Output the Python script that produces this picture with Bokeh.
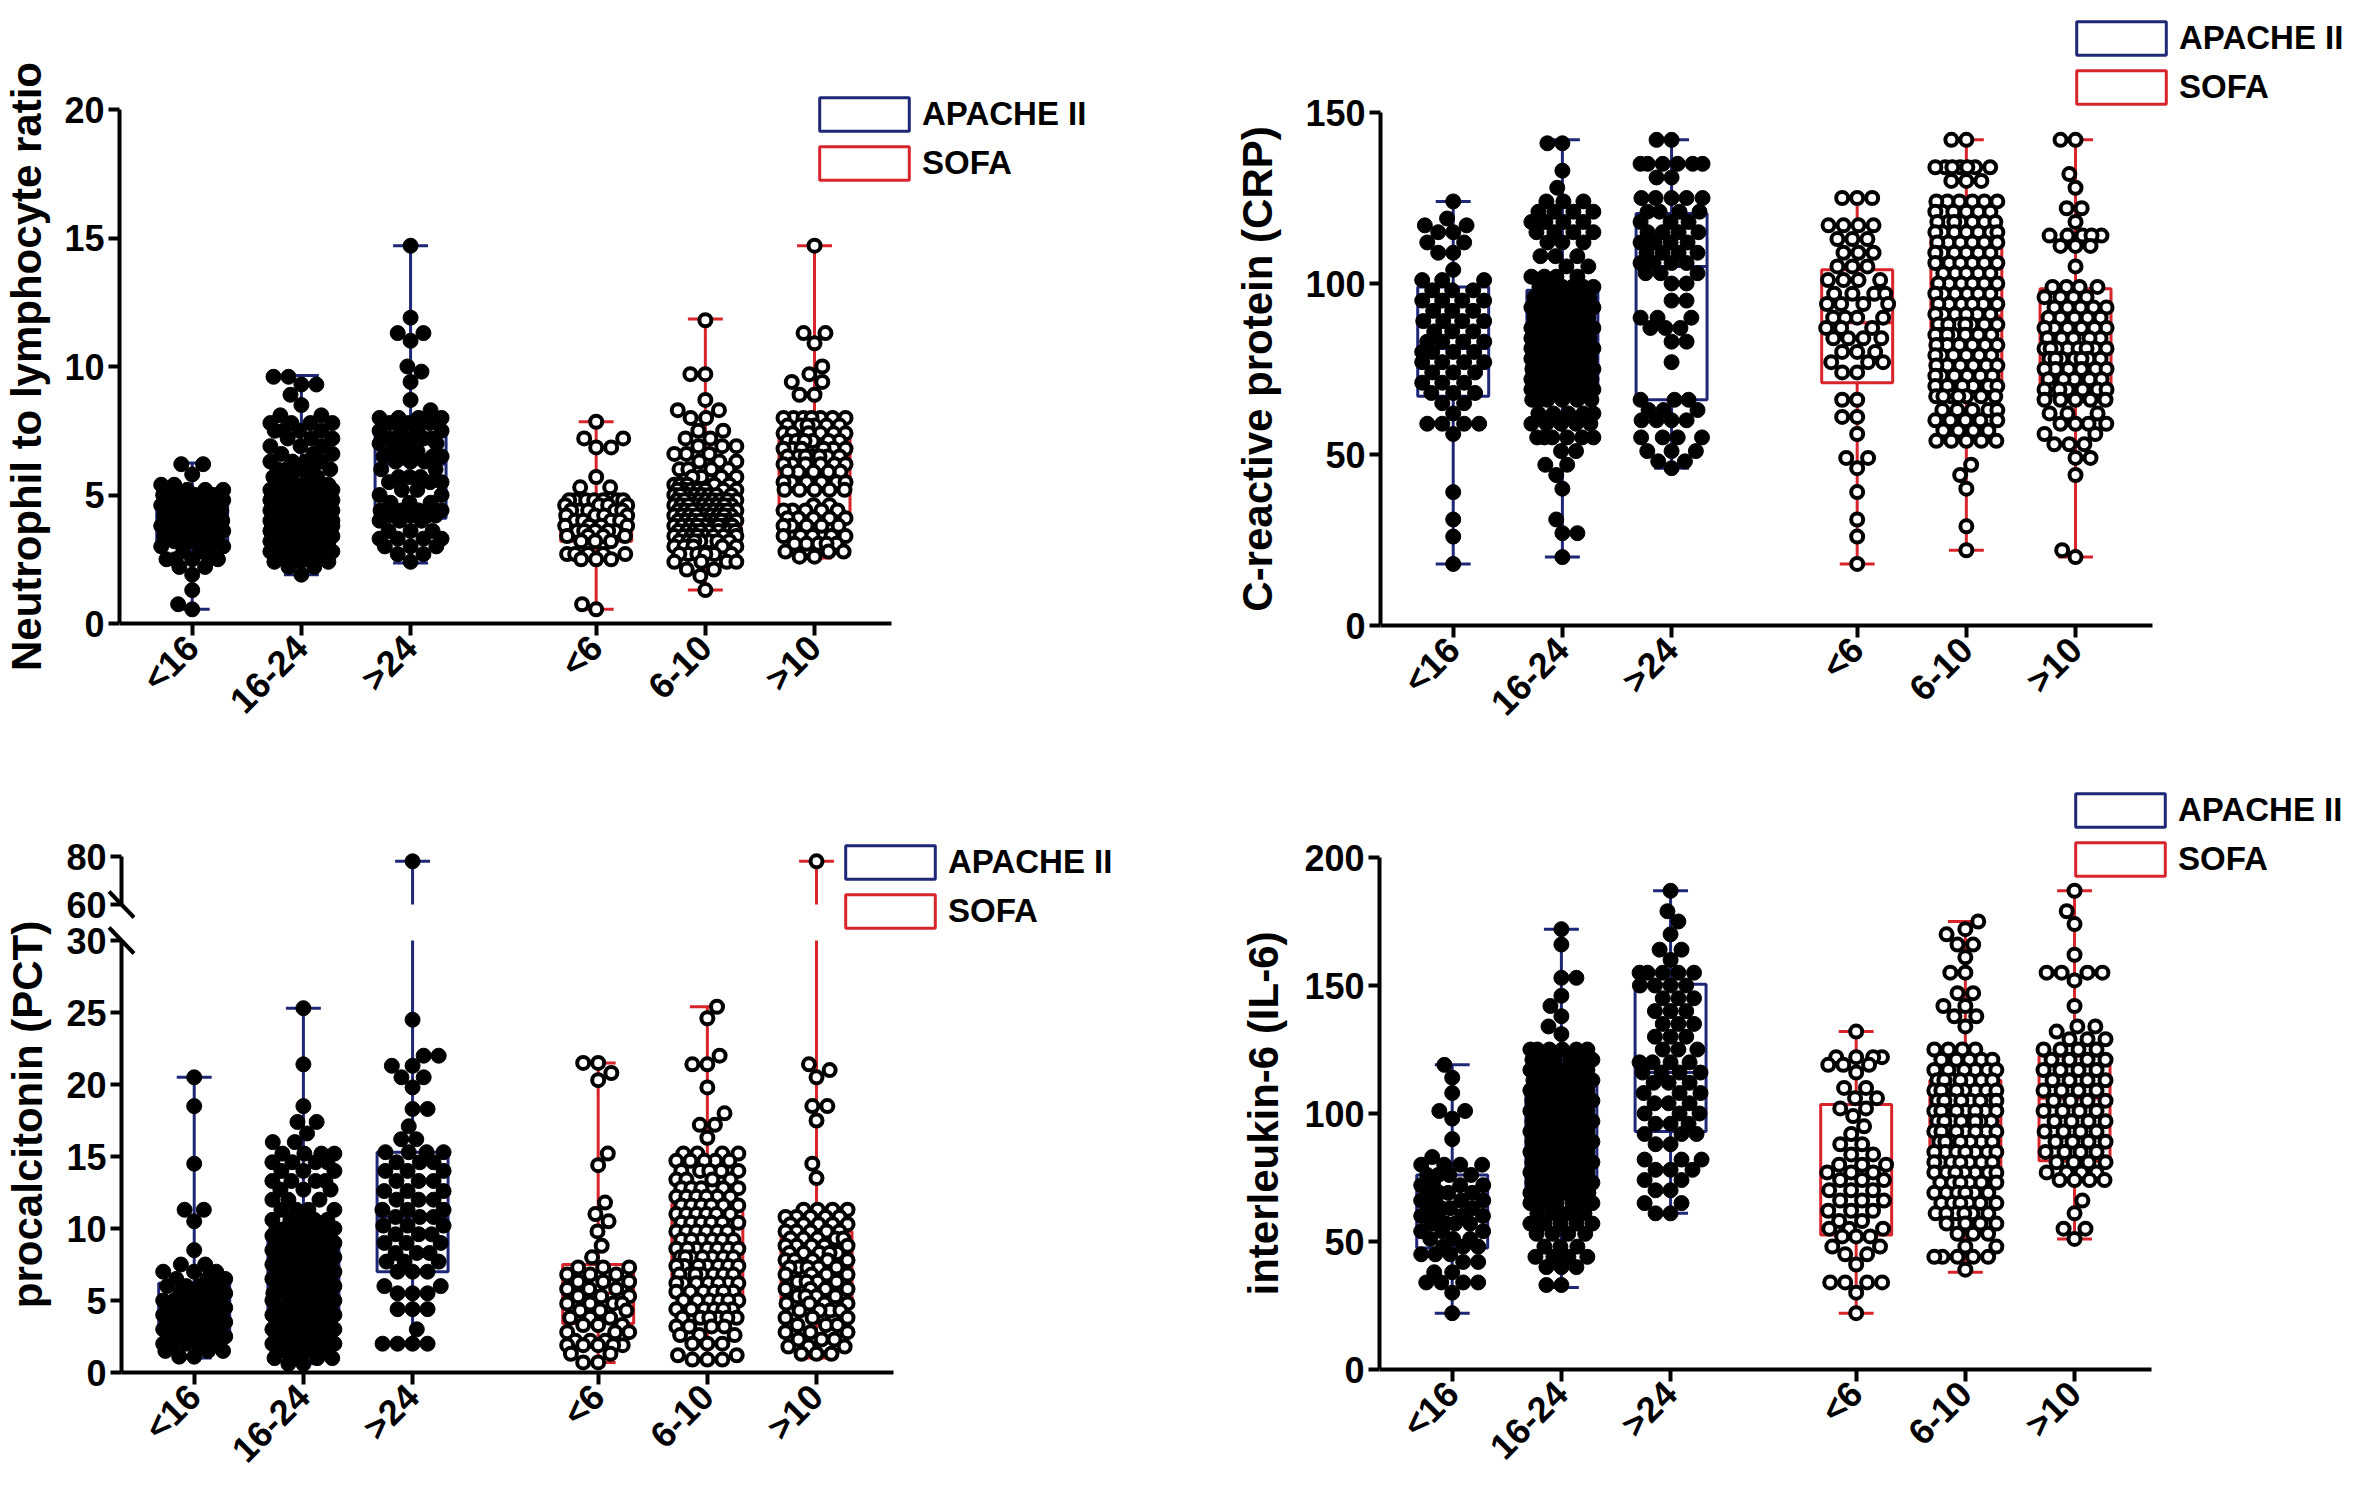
import math
from bokeh.plotting import figure
from bokeh.models import FixedTicker, Legend, LegendItem, ColumnDataSource, Range1d, LinearAxis
from bokeh.layouts import column, row
from bokeh.embed import file_html
from bokeh.resources import INLINE

# ---------------- categories ----------------
CATEGORIES = ["<16", "16-24", ">24", "<6", "6-10", ">10"]
SCORES = ["APACHE II", "SOFA"]
POSITIONS = [1, 2, 3, 4.7, 5.7, 6.7]

# ---------------- NLR (values / counts per beeswarm row) ----------------
nlr_a_lt16_v = [6.2, 5.8, 5.4, 5.2, 5.0, 4.8, 4.6, 4.4, 4.2, 4.0, 3.8, 3.6, 3.4, 3.2, 3.0, 2.8, 2.5, 2.2, 1.9, 1.3, 0.75, 0.55]
nlr_a_lt16_n = [2, 1, 2, 3, 5, 4, 5, 4, 4, 5, 4, 5, 4, 3, 3, 2, 5, 2, 1, 1, 1, 1]
nlr_a_16_24_v = [9.6, 9.3, 8.9, 8.5, 8.1, 7.8, 7.5, 7.2, 6.9, 6.6, 6.3, 6.0, 5.7, 5.4, 5.2, 5.0, 4.8, 4.6, 4.4, 4.2, 4.0, 3.8, 3.6, 3.4, 3.2, 3.0, 2.8, 2.6, 2.4, 2.2, 1.9]
nlr_a_16_24_n = [2, 2, 1, 1, 2, 4, 4, 3, 3, 3, 4, 5, 5, 6, 7, 8, 8, 8, 9, 9, 9, 8, 8, 7, 6, 5, 5, 4, 3, 2, 1]
nlr_a_gt24_v = [14.7, 11.9, 11.3, 11.0, 10.0, 9.8, 9.4, 8.7, 8.3, 8.0, 7.8, 7.5, 7.2, 7.0, 6.7, 6.5, 6.3, 6.0, 5.7, 5.5, 5.2, 5.0, 4.7, 4.4, 4.2, 4.0, 3.6, 3.3, 3.0, 2.7, 2.4]
nlr_a_gt24_n = [1, 1, 2, 1, 1, 1, 1, 1, 1, 4, 3, 4, 4, 3, 3, 4, 3, 2, 3, 3, 2, 2, 3, 4, 4, 3, 3, 4, 3, 2, 1]
nlr_s_lt6_v = [7.85, 7.2, 6.85, 5.7, 5.3, 4.8, 4.6, 4.4, 4.2, 4.0, 3.8, 3.6, 3.4, 3.2, 2.7, 2.5, 0.75, 0.55]
nlr_s_lt6_n = [1, 2, 2, 1, 2, 7, 4, 5, 4, 4, 4, 5, 4, 3, 5, 3, 1, 1]
nlr_s_6_10_v = [11.8, 9.7, 8.7, 8.3, 8.0, 7.5, 7.2, 6.9, 6.6, 6.3, 6.0, 5.7, 5.4, 5.2, 5.0, 4.8, 4.6, 4.4, 4.2, 4.0, 3.8, 3.6, 3.4, 3.2, 3.0, 2.7, 2.4, 2.1, 1.85, 1.3]
nlr_s_6_10_n = [1, 2, 1, 2, 2, 2, 2, 3, 3, 3, 4, 4, 5, 7, 8, 9, 9, 9, 9, 9, 9, 8, 8, 7, 5, 6, 4, 2, 1, 1]
nlr_s_gt10_v = [14.7, 11.3, 10.9, 10.0, 9.7, 9.4, 8.9, 8.0, 7.7, 7.4, 7.1, 6.8, 6.5, 6.2, 5.9, 5.5, 5.2, 4.6, 4.4, 4.1, 3.8, 3.4, 3.1, 2.8, 2.6]
nlr_s_gt10_n = [1, 2, 1, 1, 1, 2, 2, 7, 6, 6, 6, 6, 7, 6, 5, 6, 5, 2, 5, 5, 5, 5, 5, 3, 2]
nlr_min = [0.55, 1.9, 2.35, 0.55, 1.3, 2.55]
nlr_q1 = [3.2, 3.45, 4.1, 3.2, 3.35, 4.25]
nlr_med = [3.9, 4.3, 6.2, 3.65, 4.15, 6.5]
nlr_q3 = [4.65, 5.15, 7.4, 4.4, 5.0, 7.45]
nlr_max = [6.25, 9.65, 14.7, 7.85, 11.85, 14.7]

# ---------------- CRP ----------------
crp_a_lt16_v = [124, 119, 117, 115, 112, 109, 104, 101, 98, 95, 92, 89, 86, 83, 80, 77, 74, 71, 68, 65, 62, 59, 56, 39, 31, 26, 18]
crp_a_lt16_n = [1, 1, 2, 2, 2, 2, 1, 3, 3, 4, 3, 4, 3, 4, 4, 4, 3, 3, 3, 2, 1, 4, 1, 1, 1, 1, 1]
crp_a_16_24_v = [141, 133, 128, 124, 121, 118, 115, 112, 108, 105, 102, 99, 96, 93, 90, 87, 84, 81, 78, 75, 72, 69, 66, 62, 59, 55, 51, 47, 44, 40, 31, 27, 20]
crp_a_16_24_n = [2, 1, 1, 3, 4, 4, 4, 3, 3, 2, 4, 6, 7, 7, 7, 8, 8, 9, 9, 8, 8, 8, 6, 5, 5, 6, 2, 2, 1, 1, 1, 2, 1]
crp_a_gt24_v = [142, 135, 131, 125, 121, 118, 115, 112, 109, 106, 103, 100, 95, 90, 87, 83, 77, 66, 63, 60, 55, 51, 48, 46]
crp_a_gt24_n = [2, 6, 2, 5, 4, 3, 4, 4, 4, 4, 3, 2, 2, 3, 3, 2, 1, 3, 3, 4, 4, 3, 2, 1]
crp_s_lt6_v = [125, 117, 113, 109, 105, 101, 97, 94, 90, 87, 84, 80, 77, 74, 66, 61, 56, 49, 46, 39, 31, 26, 18]
crp_s_lt6_n = [3, 4, 3, 3, 3, 4, 4, 4, 4, 3, 4, 3, 3, 2, 2, 2, 1, 2, 1, 1, 1, 1, 1]
crp_s_6_10_v = [142, 134, 130, 124, 121, 118, 115, 112, 109, 106, 103, 100, 97, 94, 91, 88, 85, 82, 79, 76, 73, 70, 67, 63, 60, 57, 54, 47, 44, 40, 29, 22]
crp_s_6_10_n = [2, 7, 3, 6, 6, 7, 7, 6, 6, 6, 5, 6, 6, 6, 6, 7, 7, 6, 6, 6, 6, 6, 7, 5, 5, 4, 5, 1, 1, 1, 1, 1]
crp_s_gt10_v = [142, 132, 128, 122, 118, 114, 111, 105, 99, 96, 93, 90, 87, 84, 81, 78, 75, 72, 69, 66, 62, 59, 56, 53, 49, 44, 22, 20]
crp_s_gt10_n = [2, 1, 1, 2, 1, 5, 3, 1, 4, 4, 5, 5, 6, 5, 8, 7, 6, 5, 7, 5, 3, 4, 2, 3, 2, 1, 1, 1]
crp_min = [18, 20, 46, 18, 22, 20]
crp_q1 = [67, 68, 66, 71, 69, 69]
crp_med = [81, 82, 105, 88.5, 90.5, 81]
crp_q3 = [99, 98, 120.5, 104, 114, 98.5]
crp_max = [124, 142, 142, 125, 142, 142]

# ---------------- PCT ----------------
pct_a_lt16_v = [20.5, 18.5, 14.5, 11.3, 10.5, 8.5, 7.5, 7.0, 6.5, 6.0, 5.5, 5.0, 4.5, 4.0, 3.5, 3.0, 2.5, 2.0, 1.5, 1.1]
pct_a_lt16_n = [1, 1, 1, 2, 1, 1, 2, 3, 3, 4, 4, 5, 5, 5, 5, 5, 5, 5, 3, 2]
pct_a_16_24_v = [25.3, 21.4, 18.5, 17.4, 16.6, 16.0, 15.2, 14.6, 14.0, 13.3, 12.7, 12.0, 11.3, 10.6, 10.0, 9.5, 9.0, 8.5, 8.0, 7.5, 7.0, 6.5, 6.0, 5.5, 5.0, 4.5, 4.0, 3.5, 3.0, 2.5, 2.0, 1.5, 1.0, 0.6]
pct_a_16_24_n = [1, 1, 1, 2, 1, 2, 4, 4, 3, 4, 3, 3, 4, 5, 6, 6, 6, 6, 6, 6, 6, 7, 7, 6, 6, 6, 7, 6, 6, 6, 5, 5, 4, 2]
pct_a_gt24_v = [78, 24.5, 22.0, 21.3, 20.5, 19.8, 18.3, 17.1, 16.2, 15.3, 14.6, 14.0, 13.3, 12.6, 12.0, 11.3, 10.8, 10.2, 9.6, 9.0, 8.3, 7.7, 7.0, 6.0, 5.5, 4.4, 3.0, 2.0]
pct_a_gt24_n = [1, 1, 2, 2, 2, 1, 2, 1, 2, 4, 3, 3, 3, 3, 3, 3, 3, 3, 3, 3, 3, 3, 3, 2, 3, 3, 1, 4]
pct_s_lt6_v = [21.5, 20.8, 20.3, 15.2, 14.4, 11.8, 11.0, 10.5, 9.8, 8.8, 8.0, 7.3, 6.8, 6.3, 5.8, 5.3, 4.8, 4.3, 3.8, 3.3, 2.8, 2.2, 1.9, 1.3, 0.7]
pct_s_lt6_n = [2, 1, 1, 1, 1, 1, 1, 1, 1, 1, 1, 3, 3, 3, 3, 3, 4, 3, 3, 3, 3, 3, 5, 2, 2]
pct_s_6_10_v = [25.4, 24.6, 22.0, 21.4, 19.8, 18.0, 17.2, 16.3, 15.2, 14.7, 14.0, 13.4, 12.8, 12.2, 11.6, 11.0, 10.4, 9.8, 9.2, 8.6, 8.0, 7.4, 6.8, 6.2, 5.6, 5.0, 4.4, 3.8, 3.2, 2.6, 2.0, 1.2, 0.9]
pct_s_6_10_n = [1, 1, 1, 2, 1, 1, 2, 1, 4, 5, 5, 4, 5, 6, 6, 6, 6, 6, 6, 7, 7, 7, 7, 7, 6, 6, 6, 6, 4, 3, 3, 2, 3]
pct_s_gt10_v = [78, 21.4, 21.0, 20.5, 18.5, 17.5, 14.5, 13.5, 11.3, 10.8, 10.3, 9.8, 9.3, 8.8, 8.3, 7.8, 7.3, 6.8, 6.3, 5.8, 5.3, 4.8, 4.3, 3.8, 3.3, 2.8, 2.3, 1.8, 1.3]
pct_s_gt10_n = [1, 1, 1, 1, 2, 1, 1, 1, 4, 5, 5, 5, 5, 5, 5, 5, 5, 4, 4, 4, 4, 4, 4, 3, 3, 3, 3, 3, 3]
pct_min = [1.0, 0.6, 1.9, 0.7, 0.9, 1.0]
pct_q1 = [2.7, 3.9, 7.0, 3.4, 5.2, 5.0]
pct_med = [4.2, 6.5, 10.8, 5.5, 8.5, 7.7]
pct_q3 = [6.2, 9.2, 15.3, 7.5, 11.7, 9.8]
pct_max = [20.5, 25.3, 78, 21.5, 25.4, 78]

# ---------------- IL-6 ----------------
il6_a_lt16_v = [119, 114, 108, 101, 98, 90, 83, 80, 76, 72, 69, 66, 63, 60, 57, 54, 51, 48, 45, 42, 38, 34, 30, 22]
il6_a_lt16_n = [1, 1, 1, 2, 1, 1, 1, 4, 4, 4, 4, 4, 4, 4, 4, 3, 3, 3, 3, 2, 2, 4, 1, 1]
il6_a_16_24_v = [172, 166, 153, 146, 142, 138, 134, 131, 125, 121, 117, 113, 109, 105, 101, 97, 93, 89, 85, 81, 77, 73, 69, 65, 61, 57, 53, 48, 44, 40, 33]
il6_a_16_24_n = [1, 1, 2, 1, 1, 1, 1, 1, 6, 6, 7, 8, 8, 7, 7, 7, 7, 7, 7, 7, 7, 7, 7, 6, 6, 5, 4, 3, 4, 3, 2]
il6_a_gt24_v = [187, 179, 175, 170, 164, 160, 155, 150, 145, 140, 135, 130, 125, 120, 116, 112, 108, 104, 100, 96, 92, 88, 82, 78, 74, 70, 65, 61]
il6_a_gt24_n = [1, 1, 1, 1, 2, 1, 5, 4, 3, 3, 3, 3, 3, 4, 4, 3, 3, 3, 3, 3, 3, 2, 3, 3, 2, 2, 2, 2]
il6_s_lt6_v = [132, 122, 119, 116, 110, 106, 102, 99, 95, 92, 88, 84, 80, 77, 74, 70, 66, 62, 58, 55, 52, 48, 45, 41, 34, 30, 22]
il6_s_lt6_n = [1, 4, 3, 1, 2, 2, 2, 1, 1, 1, 2, 2, 3, 3, 3, 3, 3, 3, 2, 3, 3, 2, 2, 1, 4, 1, 1]
il6_s_6_10_v = [175, 172, 170, 166, 161, 155, 147, 142, 138, 134, 125, 121, 117, 113, 109, 105, 101, 97, 93, 89, 85, 81, 77, 73, 69, 65, 61, 57, 53, 48, 44, 39]
il6_s_6_10_n = [1, 1, 1, 2, 1, 2, 2, 2, 2, 1, 4, 5, 6, 7, 8, 8, 8, 8, 8, 7, 7, 7, 7, 6, 6, 6, 6, 4, 3, 2, 5, 1]
il6_s_gt10_v = [187, 179, 174, 162, 155, 152, 142, 134, 132, 129, 125, 121, 117, 113, 109, 105, 101, 97, 93, 89, 85, 81, 77, 74, 66, 61, 55, 51]
il6_s_gt10_n = [1, 1, 1, 1, 4, 1, 1, 2, 1, 3, 4, 4, 4, 4, 4, 4, 4, 4, 4, 4, 4, 4, 4, 4, 1, 1, 2, 1]
il6_min = [22, 32, 61, 22, 38, 51]
il6_q1 = [47.5, 71, 93, 52.5, 75, 81.5]
il6_med = [61, 88, 116, 75, 97, 106]
il6_q3 = [76, 111, 150.5, 103.5, 113, 122.5]
il6_max = [119, 172, 187, 132, 175, 187]

# ---------------- styling ----------------
FONT = "Liberation Sans"
BLUE = "#1f2777"
RED = "#d7252b"
X0, X1 = 0.334, 7.405
BOX_HALF = 0.325
CAP_HALF = 0.16
PCT_GAP = 2.5            # screen gap of the broken axis (in lower-segment units)
PCT_UPPER_SCALE = 1 / 6  # compression of the 60-80 segment


def expand(vals, counts):
    out = []
    for v, c in zip(vals, counts):
        out.extend([v] * c)
    return out


def swarm(ys, d=15.0, w=31.0):
    n = len(ys)
    order = sorted(range(n), key=lambda i: ys[i])
    placed = []
    xs = [0.0] * n
    for k, i in enumerate(order):
        y = ys[i]
        near = [(px, py) for px, py in placed if abs(py - y) < d]
        cands = [0.0]
        for px, py in near:
            dx = math.sqrt(max(d * d - (py - y) ** 2, 0.0))
            cands.extend((px + dx, px - dx))
        sign = 1 if k % 2 == 0 else -1
        best = None
        for c in sorted(cands, key=lambda c: (round(abs(c), 6), -sign * c)):
            if abs(c) > w + 1e-6:
                continue
            if all((c - px) ** 2 + (y - py) ** 2 >= d * d - 1e-6 for px, py in near):
                best = c
                break
        if best is None:
            best_score = -1.0
            steps = int(2 * w)
            for s in range(steps + 1):
                c = -w + s * (2 * w / steps)
                score = min(math.hypot(c - px, y - py) for px, py in near)
                if score > best_score + 1e-9:
                    best, best_score = c, score
        xs[i] = best
        placed.append((best, y))
    return xs


def pct_map(v):
    return v if v <= 30 else 30 + PCT_GAP + (v - 60) * PCT_UPPER_SCALE


def ident(v):
    return v


def style_axis(ax, tick_out):
    ax.axis_line_width = 4
    ax.axis_line_color = "black"
    ax.major_tick_line_width = 4
    ax.major_tick_line_color = "black"
    ax.major_tick_in = 0
    ax.major_tick_out = tick_out
    ax.minor_tick_line_color = None
    ax.major_label_text_font = FONT
    ax.major_label_text_font_style = "bold"
    ax.major_label_text_font_size = "36px"
    ax.major_label_text_color = "black"


def build(groups, stats, ylabel, yticks, yend, fw, fh, ext, borders, leg_loc, standoff,
          ymap=ident, brk=None):
    el, er, ev = ext
    bl, br, bt, bb = borders
    ppu_x = fw / (X1 - X0)
    ppu_y = fh / ymap(yend)
    p = figure(frame_width=el + fw + er, frame_height=fh + 2 * ev,
               min_border_left=bl, min_border_right=br,
               min_border_top=bt, min_border_bottom=bb,
               x_range=Range1d(X0 - el / ppu_x, X1 + er / ppu_x),
               y_range=Range1d(-ev / ppu_y, ymap(yend) + ev / ppu_y),
               output_backend="svg", toolbar_location=None, title=None)
    p.outline_line_color = None
    p.xgrid.visible = False
    p.ygrid.visible = False
    p.background_fill_color = "white"

    mn, q1, med, q3, mx = stats

    box_renderers = []
    for si, color in ((0, BLUE), (1, RED)):
        idx = range(si * 3, si * 3 + 3)
        qsrc = ColumnDataSource(dict(
            left=[POSITIONS[i] - BOX_HALF for i in idx],
            right=[POSITIONS[i] + BOX_HALF for i in idx],
            bottom=[ymap(q1[i]) for i in idx],
            top=[ymap(q3[i]) for i in idx]))
        x0s, y0s, x1s, y1s = [], [], [], []
        for i in idx:
            pos = POSITIONS[i]
            x0s += [pos]; y0s += [ymap(mn[i])]; x1s += [pos]; y1s += [ymap(q1[i])]
            if brk is not None and mx[i] > brk[1]:
                x0s += [pos, pos]; y0s += [ymap(q3[i]), ymap(brk[1])]
                x1s += [pos, pos]; y1s += [ymap(brk[0]), ymap(mx[i])]
            else:
                x0s += [pos]; y0s += [ymap(q3[i])]; x1s += [pos]; y1s += [ymap(mx[i])]
            for v in (mn[i], mx[i]):
                x0s += [pos - CAP_HALF]; y0s += [ymap(v)]; x1s += [pos + CAP_HALF]; y1s += [ymap(v)]
            x0s += [pos - BOX_HALF]; y0s += [ymap(med[i])]; x1s += [pos + BOX_HALF]; y1s += [ymap(med[i])]
        ssrc = ColumnDataSource(dict(x0=x0s, y0=y0s, x1=x1s, y1=y1s))
        p.segment("x0", "y0", "x1", "y1", source=ssrc, line_color=color, line_width=3)
        r = p.quad(left="left", right="right", bottom="bottom", top="top", source=qsrc,
                   fill_color=None, line_color=color, line_width=3)
        box_renderers.append(r)

    for si in (0, 1):
        xs_all, ys_all = [], []
        for i in range(si * 3, si * 3 + 3):
            vals = expand(*groups[i])
            ys = [ymap(v) for v in vals]
            offs = swarm([y * ppu_y for y in ys])
            xs_all += [POSITIONS[i] + o / ppu_x for o in offs]
            ys_all += ys
        src = ColumnDataSource(dict(x=xs_all, y=ys_all))
        if si == 0:
            p.scatter("x", "y", source=src, size=15, marker="circle",
                      fill_color="black", line_color="black", line_width=1)
        else:
            p.scatter("x", "y", source=src, size=12, marker="circle",
                      fill_color="white", line_color="black", line_width=4)

    legend = Legend(items=[LegendItem(label=SCORES[0], renderers=[box_renderers[0]]),
                           LegendItem(label=SCORES[1], renderers=[box_renderers[1]])],
                    location=leg_loc, orientation="vertical",
                    glyph_width=112, glyph_height=42, label_height=42,
                    label_standoff=2, spacing=7,
                    padding=0, margin=0, border_line_color=None, background_fill_alpha=0,
                    label_text_font=FONT, label_text_font_style="bold",
                    label_text_font_size="33px", label_text_color="black")
    p.add_layout(legend)

    # x axis drawn at y = 0, limited to the category span
    xa = p.xaxis[0]
    style_axis(xa, 12)
    xa.fixed_location = 0
    xa.bounds = (X0, X1)
    xa.ticker = FixedTicker(ticks=POSITIONS)
    xa.major_label_overrides = dict(zip(POSITIONS, CATEGORIES))
    xa.major_label_orientation = math.pi / 4
    xa.major_label_standoff = 6

    ya = p.yaxis[0]
    style_axis(ya, 11)
    ya.major_label_standoff = 4
    ya.axis_label = ylabel
    ya.axis_label_text_font = FONT
    ya.axis_label_text_font_style = "bold"
    ya.axis_label_text_font_size = "42px"
    ya.axis_label_text_color = "black"
    ya.axis_label_standoff = standoff

    if brk is None:
        ya.bounds = (0, ymap(yend))
        ya.ticker = FixedTicker(ticks=yticks)
    else:
        # the panel axis only carries the title; the broken axis is drawn in two pieces
        ya.axis_line_color = None
        ya.major_tick_out = 0
        ya.ticker = FixedTicker(ticks=[])
        lo, hi = brk
        pieces = ((0, lo, [t for t in yticks if t <= lo]), (hi, yend, [t for t in yticks if t >= hi]))
        for a, b, tks in pieces:
            ax = LinearAxis(fixed_location=X0, bounds=(ymap(a), ymap(b)))
            style_axis(ax, 11)
            ax.major_label_standoff = 4
            mapped = [ymap(t) for t in tks]
            ax.ticker = FixedTicker(ticks=mapped)
            ax.major_label_overrides = {m: str(t) for m, t in zip(mapped, tks)}
            p.add_layout(ax, "left")
        dx = 12.5 / ppu_x
        dy = 13.0 / ppu_y
        marks = [ymap(hi), ymap(lo)]
        p.segment(x0=[X0 - dx] * 2, y0=[m + dy for m in marks],
                  x1=[X0 + dx] * 2, y1=[m - dy for m in marks],
                  line_color="black", line_width=4)
    return p


nlr_groups = [(nlr_a_lt16_v, nlr_a_lt16_n), (nlr_a_16_24_v, nlr_a_16_24_n), (nlr_a_gt24_v, nlr_a_gt24_n),
              (nlr_s_lt6_v, nlr_s_lt6_n), (nlr_s_6_10_v, nlr_s_6_10_n), (nlr_s_gt10_v, nlr_s_gt10_n)]
crp_groups = [(crp_a_lt16_v, crp_a_lt16_n), (crp_a_16_24_v, crp_a_16_24_n), (crp_a_gt24_v, crp_a_gt24_n),
              (crp_s_lt6_v, crp_s_lt6_n), (crp_s_6_10_v, crp_s_6_10_n), (crp_s_gt10_v, crp_s_gt10_n)]
pct_groups = [(pct_a_lt16_v, pct_a_lt16_n), (pct_a_16_24_v, pct_a_16_24_n), (pct_a_gt24_v, pct_a_gt24_n),
              (pct_s_lt6_v, pct_s_lt6_n), (pct_s_6_10_v, pct_s_6_10_n), (pct_s_gt10_v, pct_s_gt10_n)]
il6_groups = [(il6_a_lt16_v, il6_a_lt16_n), (il6_a_16_24_v, il6_a_16_24_n), (il6_a_gt24_v, il6_a_gt24_n),
              (il6_s_lt6_v, il6_s_lt6_n), (il6_s_6_10_v, il6_s_6_10_n), (il6_s_gt10_v, il6_s_gt10_n)]

p1 = build(nlr_groups, (nlr_min, nlr_q1, nlr_med, nlr_q3, nlr_max),
           "Neutrophil to lymphocyte ratio", [0, 5, 10, 15, 20], 20,
           772, 514, (0, 283, 105), (114, 4, 4, 14), (689, 544), 11)
p2 = build(crp_groups, (crp_min, crp_q1, crp_med, crp_q3, crp_max),
           "C-reactive protein (CRP)", [0, 50, 100, 150], 150,
           772, 513, (0, 198, 108), (202, 1, 4, 9), (685, 625), 21)
p3 = build(pct_groups, (pct_min, pct_q1, pct_med, pct_q3, pct_max),
           "procalcitonin (PCT)", [0, 5, 10, 15, 20, 25, 30, 60, 80], 80,
           772, 516, (59, 278, 110), (60, 4, 4, 2), (772, 550), 12, ymap=pct_map, brk=(30, 60))
p4 = build(il6_groups, (il6_min, il6_q1, il6_med, il6_q3, il6_max),
           "interleukin-6 (IL-6)", [0, 50, 100, 150, 200], 200,
           772, 512, (0, 196, 111), (204, 1, 4, 4), (685, 600), 14)

layout = column(row(p1, p2), row(p3, p4))
open("out.html", "w").write(file_html(layout, INLINE))
